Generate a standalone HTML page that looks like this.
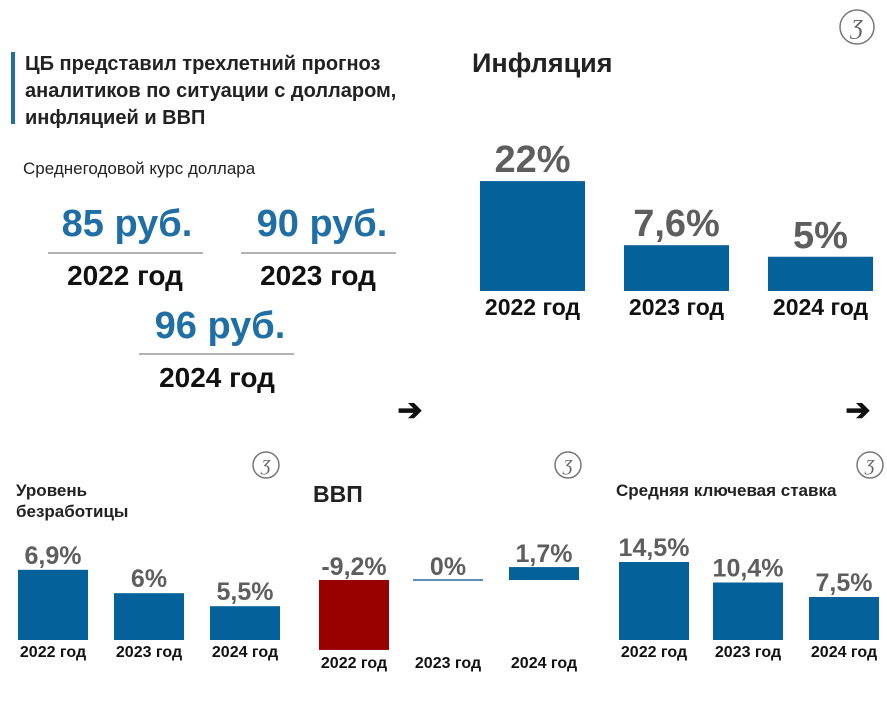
<!DOCTYPE html>
<html><head><meta charset="utf-8"><style>
html,body{margin:0;padding:0;background:#fff;}
svg{display:block;font-family:"Liberation Sans","Noto Sans CJK SC",sans-serif;}
</style></head><body>
<svg id="s" width="887" height="706" viewBox="0 0 887 706">
<rect x="0" y="0" width="887" height="706" fill="#fff"/>
<rect x="11" y="52" width="4" height="72" fill="#1f6fa6"/>
<g font-weight="bold" font-size="20" fill="#222">
<text x="25" y="70">ЦБ представил трехлетний прогноз</text>
<text x="25" y="97">аналитиков по ситуации с долларом,</text>
<text x="25" y="124">инфляцией и ВВП</text>
</g>
<text x="23" y="174" font-size="17" fill="#222">Среднегодовой курс доллара</text>
<g font-weight="bold" text-anchor="middle">
<text x="127" y="236" font-size="38" fill="#1f6fa6">85 руб.</text>
<line x1="48" y1="253" x2="203" y2="253" stroke="#999" stroke-width="1.5"/>
<text x="125" y="285" font-size="28" fill="#111">2022 год</text>
<text x="322" y="236" font-size="38" fill="#1f6fa6">90 руб.</text>
<line x1="241" y1="253" x2="396" y2="253" stroke="#999" stroke-width="1.5"/>
<text x="318" y="285" font-size="28" fill="#111">2023 год</text>
<text x="220" y="338" font-size="38" fill="#1f6fa6">96 руб.</text>
<line x1="139" y1="354" x2="294" y2="354" stroke="#999" stroke-width="1.5"/>
<text x="217" y="387" font-size="28" fill="#111">2024 год</text>
</g>
<text x="472" y="72" font-size="27" font-weight="bold" fill="#222">Инфляция</text>
<text x="16" y="496" font-size="17" font-weight="bold" fill="#222"><tspan x="16">Уровень</tspan><tspan x="16" dy="21">безработицы</tspan></text>
<text x="313" y="502" font-size="23" font-weight="bold" fill="#222">ВВП</text>
<text x="616" y="496" font-size="17" font-weight="bold" fill="#222">Средняя ключевая ставка</text>
<text x="410" y="420" font-size="30" font-weight="bold" text-anchor="middle" fill="#111">➔</text>
<text x="858" y="420" font-size="30" font-weight="bold" text-anchor="middle" fill="#111">➔</text>
<g id="charts"></g>
</svg>
<script>
const NS="http://www.w3.org/2000/svg";
const years=["2022 год","2023 год","2024 год"];
const inflationValues=[22,7.6,5];
const inflationLabels=["22%","7,6%","5%"];
const unemploymentValues=[6.9,6,5.5];
const unemploymentLabels=["6,9%","6%","5,5%"];
const gdpValues=[-9.2,0,1.7];
const gdpLabels=["-9,2%","0%","1,7%"];
const keyRateValues=[14.5,10.4,7.5];
const keyRateLabels=["14,5%","10,4%","7,5%"];
const root=document.getElementById('charts');
function mk(tag,attrs,parent){const e=document.createElementNS(NS,tag);for(const k in attrs)e.setAttribute(k,attrs[k]);(parent||root).appendChild(e);return e;}
function txt(x,y,s,size,fill,parent,name){const t=mk('text',{x:x,y:y,'font-size':size,'font-weight':'bold','text-anchor':'middle',fill:fill},parent);t.textContent=s;


return t;}
// inflation
const infX=[480,624,768],infBase=291,infW=105;
const infH=v=>12+4.45*v;
const gInf=mk('g',{});


inflationValues.forEach((v,i)=>{const h=infH(v);
const r=mk('rect',{x:infX[i],y:infBase-h,width:infW,height:h,fill:'#04619a'},gInf);


txt(infX[i]+infW/2,infBase-h-9,inflationLabels[i],38,'#5e5e5e',gInf,'inflation-value-label');
txt(infX[i]+infW/2,infBase+24,years[i],23,'#111',gInf,'inflation-year-label');});
function small(name,xs,base,hf,vals,labs,yearY){
const g=mk('g',{});


vals.forEach((v,i)=>{const h=hf(v);
const r=mk('rect',{x:xs[i],y:base-h,width:70,height:h,fill:'#04619a'},g);


txt(xs[i]+35,base-h-6,labs[i],25,'#5e5e5e',g,name+'-value-label');
txt(xs[i]+35,yearY,years[i],16,'#111',g,name+'-year-label');});}
small('unemployment',[18,114,210],640,v=>(v-4.2)*26,unemploymentValues,unemploymentLabels,657);
small('key-rate',[619,713,809],640,v=>5.5+5*v,keyRateValues,keyRateLabels,657);
// gdp
const gdpX=[319,413,509],zero=580,k=7.6;
const gG=mk('g',{});


gdpValues.forEach((v,i)=>{const h=Math.abs(v)*k;const neg=v<0;
let r;
if(v===0){r=mk('rect',{x:gdpX[i],y:zero-1,width:70,height:2,fill:'#5b8fb8'},gG);}
else r=mk('rect',{x:gdpX[i],y:neg?zero:zero-h,width:70,height:h,fill:neg?'#990000':'#04619a'},gG);


const top=neg?zero:zero-h;
txt(gdpX[i]+35,top-5,gdpLabels[i],25,'#5e5e5e',gG,'gdp-value-label');
txt(gdpX[i]+35,668,years[i],16,'#111',gG,'gdp-year-label');});
// logos
[[857,27,17],[266,465,13],[568,465,13],[870,465,13]].forEach(p=>{
const c=mk('circle',{cx:p[0],cy:p[1],r:p[2],fill:'#fff',stroke:'#777','stroke-width':1.5});


const t=mk('text',{x:p[0],y:p[1]+p[2]*0.45,'font-size':p[2]*1.3,'font-style':'italic','text-anchor':'middle',fill:'#666','font-family':'Liberation Serif, serif'});
t.textContent='Ʒ';

});
</script>
</body></html>
